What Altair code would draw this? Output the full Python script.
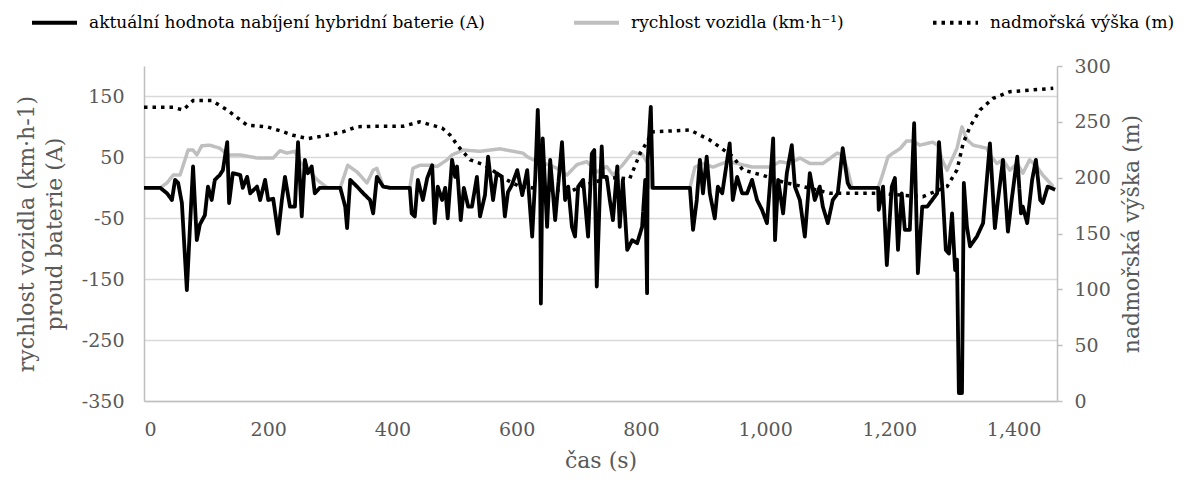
import altair as alt
import pandas as pd

# ---- data ----
current_t = [0, 26, 37, 45, 50, 55, 61, 69, 74, 79, 85, 90, 98, 103, 109, 114, 122, 127, 134, 137,
             143, 155, 159, 166, 171, 182, 187, 195, 200, 208, 216, 222, 227, 235, 243, 248, 254, 259,
             264, 270, 275, 283, 316, 324, 327, 332, 343, 353, 364, 369, 375, 385, 396, 428, 431, 436,
             441, 449, 456, 464, 468, 473, 480, 485, 489, 496, 501, 504, 510, 515, 522, 528, 536, 541,
             549, 554, 562, 568, 576, 581, 586, 592, 601, 609, 617, 625, 630, 634, 638, 639, 642, 649,
             654, 662, 673, 678, 683, 689, 694, 699, 707, 715, 721, 725, 729, 734, 737, 739, 745, 750,
             755, 762, 766, 771, 778, 786, 794, 802, 807, 810, 811, 816, 819, 879, 884, 890, 895, 900,
             906, 911, 919, 924, 931, 939, 943, 948, 955, 963, 971, 979, 987, 995, 1003, 1008, 1013,
             1016, 1021, 1029, 1035, 1043, 1048, 1056, 1064, 1072, 1080, 1088, 1093, 1101, 1109, 1117,
             1125, 1133, 1137, 1182, 1183, 1190, 1196, 1204, 1209, 1214, 1220, 1225, 1233, 1240, 1243,
             1246, 1253, 1261, 1269, 1277, 1280, 1286, 1291, 1296, 1301, 1306, 1309, 1312, 1317, 1320,
             1325, 1330, 1341, 1351, 1357, 1362, 1370, 1375, 1383, 1391, 1397, 1406, 1412, 1415, 1422,
             1430, 1436, 1443, 1447, 1455, 1467]
current_a = [0, 0, -9, -20, 13, 8, -25, -168, -64, 35, -86, -60, -45, 2, -20, 13, 21, 29, 75, -25,
             24, 21, 0, 18, -9, 2, -20, 13, -20, -18, -75, -20, 18, -31, -31, 75, -47, 46,
             24, 35, -9, 0, 0, -31, -66, 13, 2, -9, -20, -42, 18, 2, 0, 0, -42, -47,
             13, -20, 16, 37, -58, 2, -20, 0, -50, 46, 18, 35, -53, 0, -31, -31, 18, -47,
             -12, 51, -20, 24, 18, -47, -7, 4, 29, -12, 29, -80, 18, 128, 0, -190, 81, -64,
             46, -53, 75, -20, 2, -64, -80, 2, 13, -80, 56, 62, -162, -7, 68, 18, 18, -20,
             -53, 35, -64, 13, -102, -86, -91, -64, 13, -173, 46, 133, 0, 0, -69, -20, 46, -9,
             51, -9, -50, 2, -9, 46, 73, -20, 18, -9, -9, 13, -20, -36, -58, 8, 81,
             -86, 13, -42, 24, 70, 2, -20, -80, 24, -20, 2, -31, -58, -20, -9,
             65, 8, 0, 0, -36, 2, -127, 2, 16, -102, -9, -69, -69, 106, -20,
             -140, -31, -31, -20, -9, 75, -9, -102, -108, -42, -135, -118, -337, -337, 8,
             -64, -96, -80, -58, 13, 73, -66, -20, 46, -72, -20, 51, -42, -31, -58,
             13, 46, -20, -25, 2, -3]

speed_t = [0, 26, 37, 47, 58, 66, 71, 79, 85, 93, 106, 122, 135, 155, 182, 208, 219, 230, 243, 251,
           262, 279, 295, 316, 328, 343, 359, 369, 375, 385, 396, 428, 433, 444, 460, 472, 488, 496,
           514, 541, 573, 610, 617, 633, 654, 665, 681, 697, 713, 729, 745, 755, 771, 787, 803, 811,
           816, 879, 887, 900, 916, 939, 955, 980, 1008, 1024, 1040, 1056, 1072, 1093, 1104, 1116,
           1125, 1133, 1140, 1182, 1188, 1198, 1206, 1217, 1228, 1238, 1249, 1270, 1278, 1285, 1293,
           1309, 1317, 1325, 1335, 1357, 1362, 1373, 1383, 1394, 1406, 1415, 1426, 1438, 1447, 1464]
speed_kmh = [0, 0, 8, 21, 21, 46, 62, 62, 54, 69, 70, 65, 54, 54, 49, 49, 61, 57, 60, 43,
             32, 13, 0, 0, 37, 26, 8, 29, 32, 2, 0, 0, 32, 37, 37, 35, 46, 54,
             62, 60, 64, 57, 51, 43, 37, 32, 21, 38, 43, 26, 35, 21, 38, 59, 54, 40,
             0, 0, 34, 40, 34, 43, 40, 34, 34, 43, 40, 49, 40, 40, 48, 57,
             54, 29, 0, 0, 18, 51, 57, 64, 77, 77, 70, 75, 70, 46, 29,
             65, 100, 79, 70, 65, 54, 40, 46, 29, 40, 24, 46, 34, 21, 2]

altitude_t = [0, 47, 63, 79, 109, 134, 166, 198, 219, 240, 264, 295, 320, 343, 369, 417, 444, 480,
              493, 506, 525, 549, 568, 584, 605, 686, 707, 750, 782, 799, 810, 818, 879, 911, 948,
              964, 997, 1029, 1061, 1105, 1180, 1254, 1293, 1309, 1319, 1330, 1346, 1367, 1394, 1464]
altitude_m = [263, 263, 260.6, 269, 269, 260.6, 247, 245.6, 242, 238, 235, 238, 241, 245.6, 246, 246,
              250, 244.5, 238, 228, 216, 211, 204, 198, 192, 187.5, 193, 200, 199, 222, 232, 241,
              242.7, 233.7, 219, 207, 202, 196, 192, 186, 186, 183, 192, 207, 231, 245.6, 260.6,
              271, 277, 280]

S_CUR = "aktuální hodnota nabíjení hybridní baterie (A)"
S_SPD = "rychlost vozidla (km·h⁻¹)"
S_ALT = "nadmořská výška (m)"
series_names = [S_CUR, S_SPD, S_ALT]
series_colors = ["#000000", "#bfbfbf", "#000000"]
series_dash = [[1, 0], [1, 0], [3.5, 5]]

x_ticks = [0, 200, 400, 600, 800, 1000, 1200, 1400]
left_ticks = [-350, -250, -150, -50, 50, 150]
right_ticks = [0, 50, 100, 150, 200, 250, 300]

df_cur = pd.DataFrame({"t": current_t, "v": current_a, "series": S_CUR})
df_spd = pd.DataFrame({"t": speed_t, "v": speed_kmh, "series": S_SPD})
df_alt = pd.DataFrame({"t": altitude_t, "h": altitude_m, "series": S_ALT})

FONT = "DejaVu Serif"
GREY_TXT = "#595959"
TICK_FS = 19
TITLE_FS = 22

x_enc = alt.X("t:Q", scale=alt.Scale(domain=[0, 1470], nice=False, zero=False),
              axis=alt.Axis(values=x_ticks, format=",d", grid=False, ticks=False, tickSize=0,
                            labelPadding=19, title="čas (s)", titlePadding=11))
color_enc = alt.Color("series:N", scale=alt.Scale(domain=series_names, range=series_colors),
                      legend=alt.Legend(title=None))
dash_enc = alt.StrokeDash("series:N", scale=alt.Scale(domain=series_names, range=series_dash),
                          legend=alt.Legend(title=None))

y_left = alt.Y("v:Q", scale=alt.Scale(domain=[-350, 200], nice=False, zero=False),
               axis=alt.Axis(values=left_ticks, grid=True, ticks=False, tickSize=0, labelPadding=20,
                             labelExpr="'' + datum.value",
                             title=["rychlost vozidla (km·h-1)", "proud baterie (A)"],
                             titlePadding=15, titleLineHeight=28))

speed_line = alt.Chart(df_spd).mark_line(strokeWidth=3.5, strokeJoin="round").encode(
    x=x_enc, y=y_left, color=color_enc, strokeDash=dash_enc)
current_line = alt.Chart(df_cur).mark_line(strokeWidth=3.8, strokeJoin="round").encode(
    x=x_enc, y=y_left, color=color_enc, strokeDash=dash_enc)

left_layer = alt.layer(speed_line, current_line)

alt_line = alt.Chart(df_alt).mark_line(strokeWidth=3.5).encode(
    x=x_enc,
    y=alt.Y("h:Q", scale=alt.Scale(domain=[0, 300], nice=False, zero=False),
            axis=alt.Axis(orient="right", values=right_ticks, grid=False, ticks=True, tickSize=5,
                          tickColor="#bfbfbf", tickWidth=1.5, labelPadding=12,
                          title="nadmořská výška (m)", titleAngle=270, titleBaseline="top",
                          titlePadding=11)),
    color=color_enc, strokeDash=dash_enc)

chart = alt.layer(left_layer, alt_line).resolve_scale(y="independent").properties(
    width=913, height=335,
    autosize=alt.AutoSizeParams(type="none"),
    padding={"left": 136, "top": 58, "right": 124, "bottom": 73},
).configure(font=FONT).configure_view(strokeWidth=0).configure_axis(
    domainColor="#bfbfbf", domainWidth=1.5,
    gridColor="#d9d9d9", gridWidth=1.5,
    labelFont=FONT, labelFontSize=TICK_FS, labelColor=GREY_TXT,
    titleFont=FONT, titleFontSize=TITLE_FS, titleColor=GREY_TXT, titleFontWeight="normal",
).configure_legend(
    orient="none", legendX=-114, legendY=-68, direction="horizontal", columns=3,
    columnPadding=81, labelFont=FONT, labelFontSize=17, labelColor="#000000",
    labelLimit=800, labelOffset=10, symbolType="stroke", symbolSize=2025,
    symbolStrokeWidth=4, padding=0,
)

chart.save("out.html", embed_options={"renderer": "svg", "actions": False})
